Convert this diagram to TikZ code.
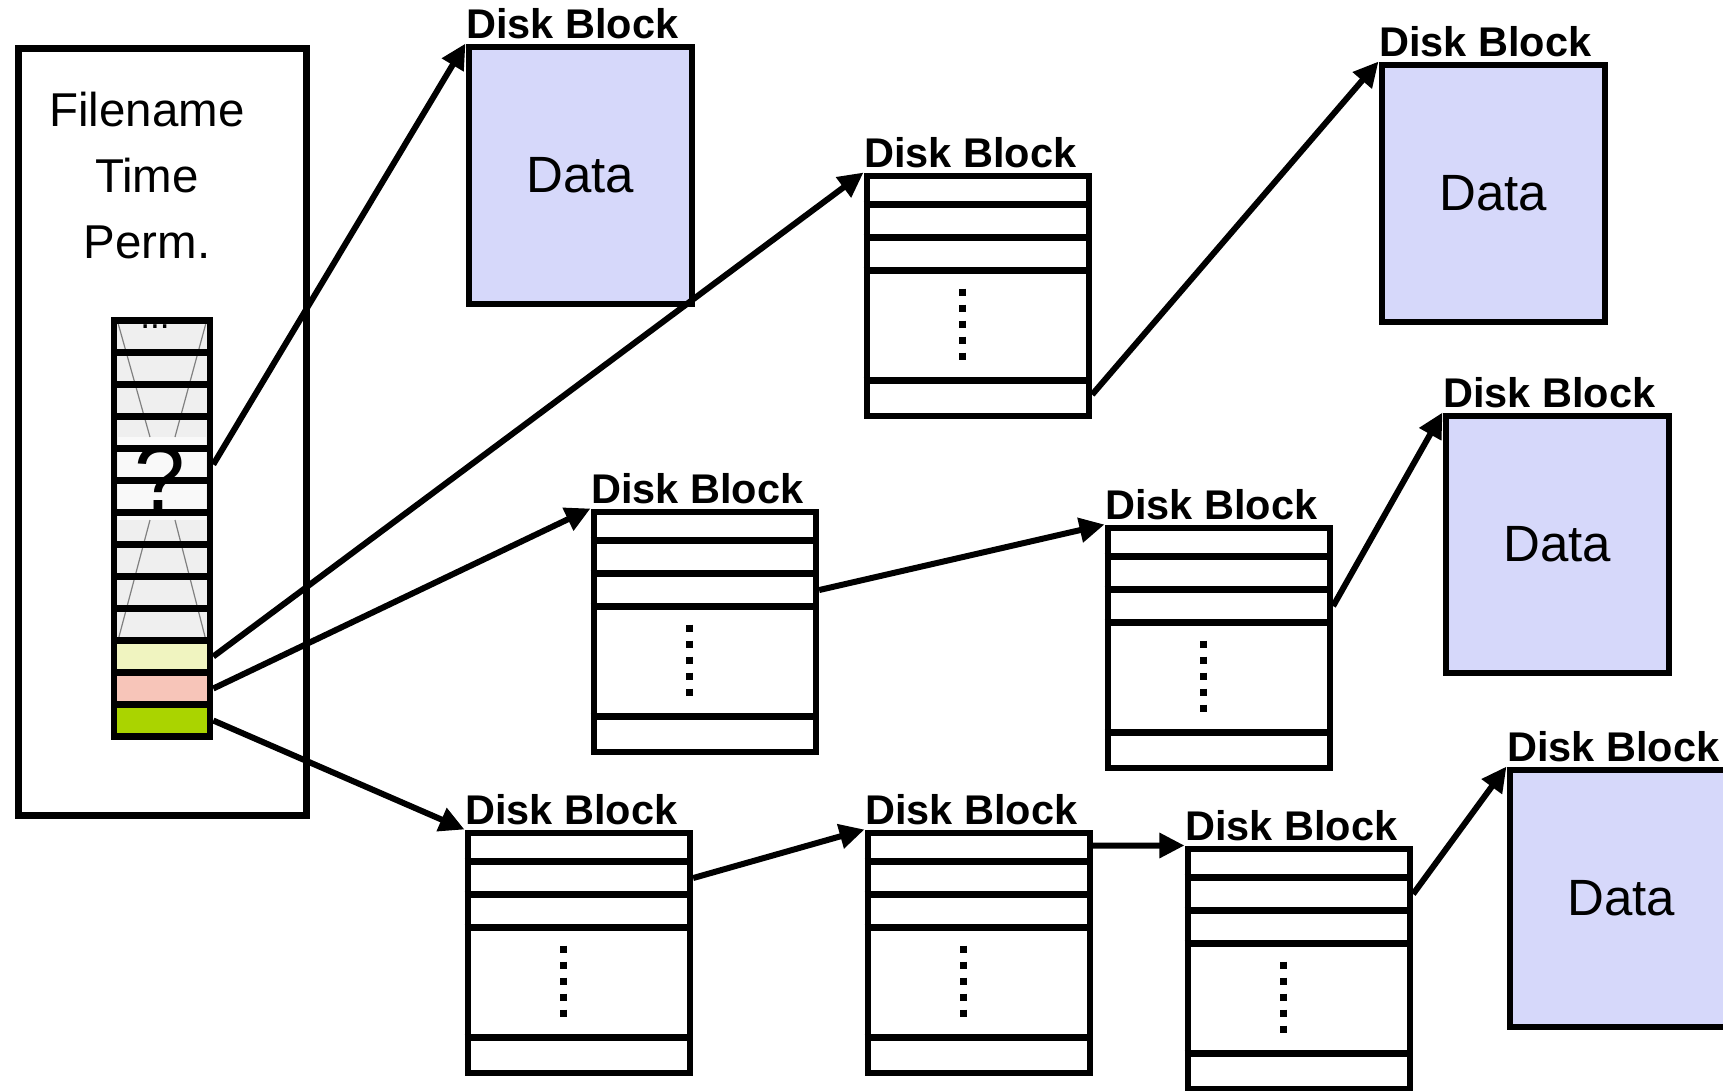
\documentclass[tikz,border=0pt]{standalone}
\usepackage{fontspec}
\setmainfont{Liberation Sans}
\usetikzlibrary{calc,arrows.meta}
\usepackage{xcolor}

\definecolor{datablue}{HTML}{D6D8FA}
\definecolor{ptryellow}{HTML}{F0F4C0}
\definecolor{ptrpink}{HTML}{F7C5B9}
\definecolor{ptrgreen}{HTML}{AAD400}
\definecolor{rowgray}{HTML}{EFEFEF}

\tikzset{
  thickline/.style={line width=0.065cm},
  datablk/.style={draw, thickline, fill=datablue, minimum width=2.23cm, minimum height=2.57cm,
    anchor=north west, inner sep=0pt, font=\fontsize{14.5}{16}\selectfont},
  ptrblk/.style={draw, thickline, minimum width=2.22cm, minimum height=2.40cm,
    anchor=north west, inner sep=0pt},
  blklabel/.style={anchor=south west, inner xsep=0pt, inner ysep=0.04cm,
    font=\bfseries\fontsize{11.8}{13}\selectfont},
  inoderow/.style={draw, thickline, minimum width=0.96cm, minimum height=0.32cm, inner sep=0pt},
  ptrarrow/.style={line width=0.06cm, -{Triangle[length=0.25cm,width=0.24cm]}},
}

% data block: name, x, y (top left)
\newcommand{\datablock}[3]{%
  \node[datablk] (#1) at (#2,#3) {Data};
  \node[blklabel] at (#1.north west) {Disk Block};
}
% block of pointers: name, x, y (top left)
\newcommand{\ptrblock}[3]{%
  \node[ptrblk] (#1) at (#2,#3) {};
  \foreach \dy in {0.32,0.65,0.98,2.08}
    \draw[thickline] ([yshift=-\dy cm]#1.north west) -- ([yshift=-\dy cm]#1.north east);
  \draw[line width=0.07cm, dash pattern=on 0.07cm off 0.09cm]
    ([xshift=-0.15cm,yshift=-1.16cm]#1.north) -- ++(0,-0.71cm);
  \coordinate (#1-1) at ([yshift=-0.16cm]#1.north east);
  \coordinate (#1-2) at ([yshift=-0.485cm]#1.north east);
  \coordinate (#1-3) at ([yshift=-0.815cm]#1.north east);
  \coordinate (#1-4) at ([yshift=-2.22cm]#1.north east);
  \node[blklabel] at (#1.north west) {Disk Block};
}

\begin{document}
\begin{tikzpicture}[x=0.01cm, y=-0.01cm]
  \useasboundingbox (4.5,4.5) rectangle (1727.5,1094.5);
  \clip (4.5,4.5) rectangle (1727.5,1094.5);

  % inode
  \node[draw, thickline, minimum width=2.88cm, minimum height=7.67cm, anchor=north west] (inode) at (19.5,49.5) {};
  \node[align=center, font=\fontsize{13.5}{18.8}\selectfont] (meta) at (151.5,180) {Filename\\Time\\Perm.};

  % pointer strip
  \fill[rowgray] (119,325) rectangle (214,645);
  \fill[white!60!rowgray] (122.5,441.5) rectangle (210.5,524.5);
  \draw[gray, line width=0.012cm] (122.5,327.5) -- (154.5,441.5) (154.5,524.5) -- (122.5,645)
    (210.5,327.5) -- (179.5,441.5) (179.5,524.5) -- (210.5,645);
  \node[anchor=base, font=\fontsize{10}{10}\selectfont] (topdots) at (159.5,332.5) {...};
  \foreach \i in {0,...,9}
    \node[inoderow] (r\i) at (166.5, 341+32*\i) {};
  \node[inoderow, fill=ptryellow] (r10) at (166.5,661) {};
  \node[inoderow, fill=ptrpink] (r11) at (166.5,693) {};
  \node[inoderow, fill=ptrgreen] (r12) at (166.5,725) {};
  \node[font=\fontsize{26}{26}\selectfont] (qmark) at (164.5,482) {?};

  % disk blocks
  \datablock{d1}{470}{48}
  \datablock{d2}{1383}{66}
  \datablock{d3}{1447}{417}
  \datablock{d4}{1511}{771}
  \ptrblock{p1}{868}{177}
  \ptrblock{p2}{595}{513}
  \ptrblock{p3}{1109}{529}
  \ptrblock{p4}{469}{834}
  \ptrblock{p5}{869}{834}
  \ptrblock{p6}{1189}{850}

  % pointers
  \draw[ptrarrow] (r4.east) -- (d1.north west);
  \draw[ptrarrow] (r10.east) -- (p1.north west);
  \draw[ptrarrow] (r11.east) -- (p2.north west);
  \draw[ptrarrow] (r12.east) -- (p4.north west);
  \draw[ptrarrow] (p1-4) -- (d2.north west);
  \draw[ptrarrow] (p2-3) -- (p3.north west);
  \draw[ptrarrow] (p3-3) -- (d3.north west);
  \draw[ptrarrow] (p4-2) -- (p5.north west);
  \draw[ptrarrow] (p5-1) -- (p6.north west);
  \draw[ptrarrow] (p6-2) -- (d4.north west);
\end{tikzpicture}
\end{document}
